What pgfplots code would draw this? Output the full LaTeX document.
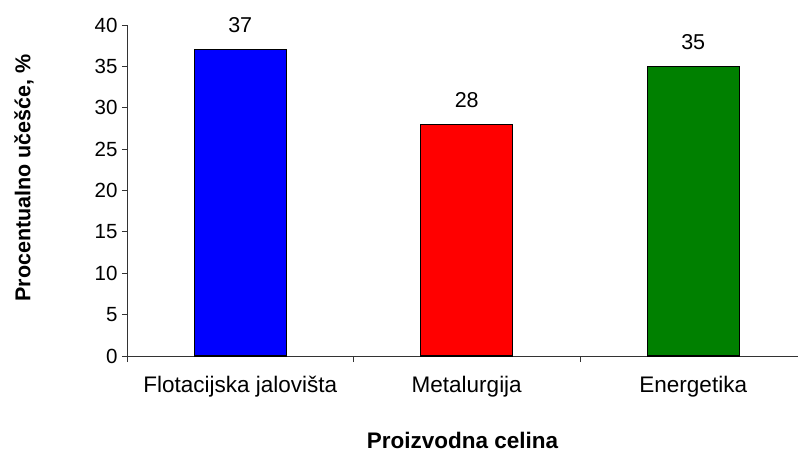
\documentclass[border=0pt]{standalone}
\usepackage{fontspec}
\setmainfont{Liberation Sans}
\usepackage{pgfplots}
\pgfplotsset{compat=1.18}
\definecolor{barblue}{RGB}{0,0,255}
\definecolor{barred}{RGB}{255,0,0}
\definecolor{bargreen}{RGB}{0,128,0}
\begin{document}
\begin{tikzpicture}
\path[use as bounding box] (0,0) rectangle (798pt,448pt);
\begin{axis}[
  at={(127pt,92pt)}, anchor=south west,
  scale only axis, width=671pt, height=331pt,
  xmin=-0.5, xmax=2.4625, ymin=0, ymax=40,
  axis x line=bottom, axis y line=left,
  axis line style={-, black!80, line width=0.9pt},
  ytick={0,5,...,40},
  xtick={0,1,2},
  xticklabels={Flotacijska jalovišta, Metalurgija, Energetika},
  minor xtick={-0.5,0.5,1.5},
  tick align=outside,
  major tick length=5pt,
  minor tick length=6pt,
  major x tick style={draw=none},
  tick style={black!80, line width=0.9pt},
  /pgf/number format/assume math mode=true,
  yticklabel style={font=\fontsize{20.5}{24}\selectfont, xshift=-1pt},
  xticklabel style={font=\fontsize{22.5}{26}\selectfont, yshift=-12pt},
  xlabel={Proizvodna celina},
  xlabel style={font=\fontsize{22.5}{26}\selectfont\bfseries, at={(axis description cs:0.5,0)}, anchor=north, yshift=-73pt},
  ylabel={Procentualno učešće, \%},
  ylabel style={font=\fontsize{21.5}{26}\selectfont\bfseries, at={(axis description cs:-0.1535,0.538)}, anchor=center},
  ybar, bar shift=0pt, bar width=0.406,
  nodes near coords,
  every node near coord/.append style={font=\fontsize{21.5}{25}\selectfont, black, yshift=13pt},
  clip=false,
]
\addplot[fill=barblue, draw=black, line width=1.1pt] coordinates {(0,37)};
\addplot[fill=barred, draw=black, line width=1.1pt] coordinates {(1,28)};
\addplot[fill=bargreen, draw=black, line width=1.1pt] coordinates {(2,35)};
\end{axis}
\end{tikzpicture}
\end{document}
